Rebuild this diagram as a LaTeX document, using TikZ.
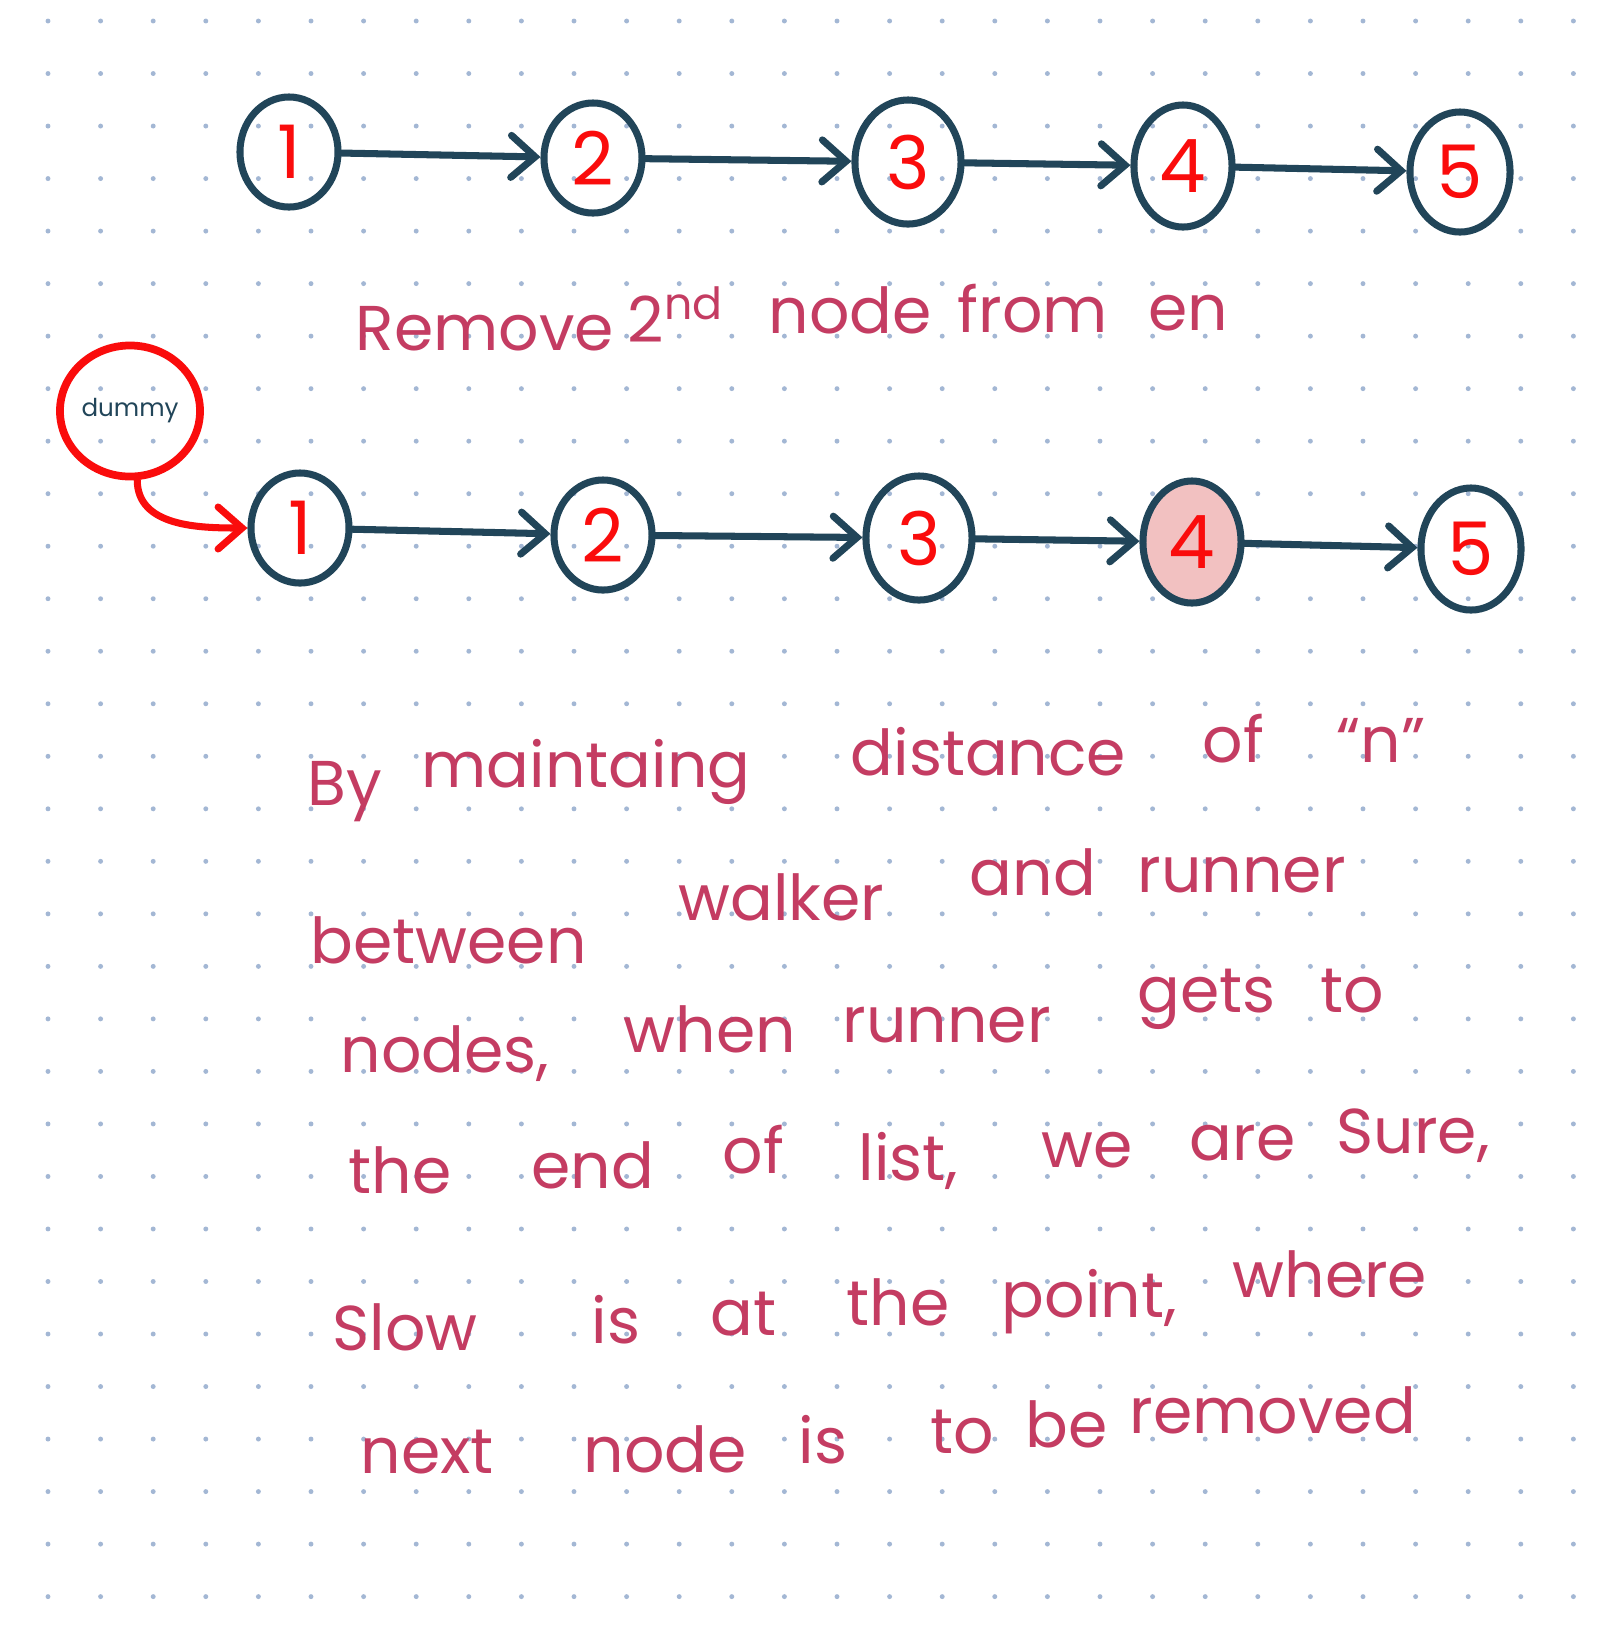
\documentclass[tikz,border=0pt]{standalone}
\usepackage{fontspec}
\setmainfont{Poppins}
\usetikzlibrary{arrows.meta,shapes.geometric}
\definecolor{cink}{RGB}{33,69,89}
\definecolor{cnum}{RGB}{250,12,12}
\definecolor{cnote}{RGB}{196,60,98}
\definecolor{cdot}{RGB}{163,183,212}
\definecolor{chl}{RGB}{242,193,193}
\tikzset{
  lnode/.style={ellipse, draw=cink, line width=2pt, inner sep=0pt,
    text=cnum, font=\fontsize{21}{24}\selectfont},
  dnode/.style={ellipse, draw=cnum, line width=2.2pt, inner sep=0pt,
    text=cink, font=\fontsize{7}{9}\selectfont},
  link/.style={draw=cink, line width=2pt, line cap=round,
    -{Straight Barb[length=2.4mm,width=4.2mm,line cap=round]}},
  note/.style={anchor=base west, inner sep=0pt, text=cnote,
    font=\fontsize{18}{22}\selectfont},
}
\begin{document}
\begin{tikzpicture}[x=0.01cm, y=-0.01cm]
\fill[white] (0,0) rectangle (1621,1632);
\useasboundingbox (0,0) rectangle (1621,1632);
% dotted paper
\foreach \i in {0,...,29}
  \foreach \j in {0,...,30}
    \fill[cdot] ({48+52.6*\i},{21+52.52*\j}) circle (0.7pt);
% first list
\foreach \n/\x/\y/\w/\h/\l in {t1/289/152/0.98/1.10/1, t2/593/158/0.98/1.10/2,
    t3/908/162/1.06/1.24/3, t4/1183/166/0.98/1.22/4, t5/1460/172/1.00/1.20/5}
  \node[lnode, minimum width=\w cm, minimum height=\h cm] (\n) at (\x,\y) {\l};
% second list, with the dummy head
\node[dnode, minimum width=1.40cm, minimum height=1.31cm] (dummy) at (130,411) {dummy};
\foreach \n/\x/\y/\w/\h/\l in {b1/300/528/0.98/1.10/1, b2/603/535/0.98/1.10/2,
    b3/919/538/1.06/1.24/3, b5/1471/549/1.00/1.22/5}
  \node[lnode, minimum width=\w cm, minimum height=\h cm] (\n) at (\x,\y) {\l};
\node[lnode, fill=chl, minimum width=0.98cm, minimum height=1.22cm] (b4) at (1192,542) {4};
\foreach \a/\b in {t1/t2, t2/t3, t3/t4, t4/t5, b1/b2, b2/b3, b3/b4, b4/b5}
  \draw[link] (\a) -- (\b);
\draw[link, draw=cnum] (dummy.-84) to[out=-90, in=180] (b1.west);
% notes
\foreach \x/\y/\w [count=\k] in {355/350/Remove, 627/342/{2\textsuperscript{nd}},
    768/333/node, 957/332/from, 1148/330/en}
  \node[note] (head\k) at (\x,\y) {\w};
\foreach \x/\y/\w [count=\k] in {307/805/By, 421/787/maintaing, 850/775/distance,
    1202/762/of, 1336/762/{“n”},
    310/963/between, 678/920/walker, 969/895/and, 1137/892/runner,
    340/1072/{nodes,}, 623/1052/when, 842/1042/runner, 1137/1012/gets, 1320/1012/to,
    348/1193/the, 531/1188/end, 722/1173/of, 858/1180/{list,}, 1041/1167/we,
    1189/1160/are, 1336/1153/{Sure,},
    332/1350/Slow, 591/1343/is, 710/1335/at, 846/1325/the, 1001/1317/{point,},
    1232/1297/where,
    360/1473/next, 583/1472/node, 798/1463/is, 930/1453/to, 1025/1447/be,
    1129/1433/removed}
  \node[note] (word\k) at (\x,\y) {\w};
\end{tikzpicture}
\end{document}
